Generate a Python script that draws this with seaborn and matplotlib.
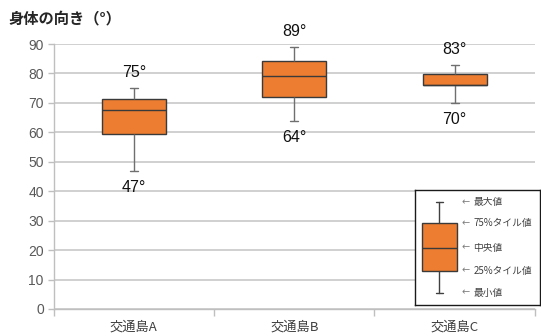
import matplotlib
matplotlib.use("Agg")
import matplotlib.pyplot as plt
import seaborn as sns
import pandas as pd
import numpy as np

# Data (min, q1, median, q3, max) per category
categories = ["交通島A", "交通島B", "交通島C"]
mins = [47, 64, 70]
q1s = [59.5, 71.9, 76.0]
medians = [67.5, 79.0, 76.2]
q3s = [71.2, 84.4, 79.8]
maxs = [75, 89, 83]
yticks = [0, 10, 20, 30, 40, 50, 60, 70, 80, 90]

legend_labels = ["最大値", "75%タイル値", "中央値", "25%タイル値", "最小値"]
legend_sample = [0.107, 0.298, 0.498, 0.713, 0.896]  # min, q1, med, q3, max in legend frame

sns.set_theme(style="white")
plt.rcParams['font.family'] = ['Liberation Sans', 'Noto Sans CJK JP', 'DejaVu Sans']

rows = []
for c, a, b, m, d, e in zip(categories, mins, q1s, medians, q3s, maxs):
    for v in (a, b, m, d, e):
        rows.append({"cat": c, "val": v})
df = pd.DataFrame(rows)

fig = plt.figure(figsize=(5.41, 3.36), dpi=100)
ax = fig.add_axes([0.0989, 0.0804, 0.890, 0.7886])

orange = "#ED7D31"
edge = "#3a3a3a"
sns.boxplot(data=df, x="cat", y="val", ax=ax, whis=(0, 100), showfliers=False,
            color=orange, width=0.4, linewidth=1.0, linecolor=edge,
            whiskerprops=dict(color="#6f6f6f", linewidth=1.0),
            capprops=dict(color="#6f6f6f", linewidth=1.0),
            boxprops=dict(edgecolor=edge, facecolor=orange),
            medianprops=dict(color=edge, linewidth=1.0),
            capwidths=0.05, saturation=1)

ax.set_ylim(0, 90)
ax.set_xlim(-0.5, 2.5)
ax.set_yticks(yticks)
ax.set_yticklabels([str(t) for t in yticks], fontsize=10, color="#595959",
                   family=['Liberation Sans', 'DejaVu Sans'])
ax.set_xticks([0, 1, 2])
ax.set_xticklabels(categories, fontsize=9.5, color="#404040",
                   family=['Noto Sans CJK JP', 'DejaVu Sans'])
ax.set_xlabel("")
ax.set_ylabel("")
ax.yaxis.grid(True, color="#c8c8c8", linewidth=1.2)
ax.set_axisbelow(True)
for s in ["top", "right"]:
    ax.spines[s].set_visible(False)
for s in ["left", "bottom"]:
    ax.spines[s].set_color("#bfbfbf")
    ax.spines[s].set_linewidth(1.0)
ax.tick_params(axis="y", which="major", length=4, color="#bfbfbf", width=1, pad=3, left=True)
ax.tick_params(axis="x", which="major", length=0, pad=8)
ax.set_xticks([-0.5, 0.5, 1.5, 2.5], minor=True)
ax.tick_params(axis="x", which="minor", length=5, color="#bfbfbf", width=1, bottom=True)

for i, (lo, hi) in enumerate(zip(mins, maxs)):
    ax.annotate(f"{hi}°", (i, hi), xytext=(0, 11), textcoords="offset points",
                ha="center", va="center", fontsize=11.5, color="#111111",
                family=['Liberation Sans', 'DejaVu Sans'])
    ax.annotate(f"{lo}°", (i, lo), xytext=(0, -12), textcoords="offset points",
                ha="center", va="center", fontsize=11.5, color="#111111",
                family=['Liberation Sans', 'DejaVu Sans'])

fig.text(0.015, 0.945, "身体の向き（°）", fontsize=11, fontweight="bold", color="#262626",
         family=['Noto Sans CJK JP', 'DejaVu Sans'], ha="left", va="center")

# Legend inset
lax = fig.add_axes([0.7665, 0.0923, 0.2316, 0.342])
lax.set_facecolor("white")
stats = [dict(whislo=legend_sample[0], q1=legend_sample[1], med=legend_sample[2],
              q3=legend_sample[3], whishi=legend_sample[4], fliers=[])]
lax.bxp(stats, positions=[0.197], widths=0.277, patch_artist=True, showfliers=False,
        capwidths=0.056,
        boxprops=dict(facecolor=orange, edgecolor=edge, linewidth=1.0),
        medianprops=dict(color=edge, linewidth=1.0),
        whiskerprops=dict(color="#404040", linewidth=1.0),
        capprops=dict(color="#404040", linewidth=1.0))
lax.set_xlim(0, 1)
lax.set_ylim(0, 1)
lax.set_xticks([])
lax.set_yticks([])
for s in lax.spines.values():
    s.set_visible(True)
    s.set_color("#1a1a1a")
    s.set_linewidth(1.0)
for lab, yv in zip(legend_labels, legend_sample[::-1]):
    lax.text(0.375, yv, "←", fontsize=7, color="#7f7f7f", ha="left", va="center",
             family=['DejaVu Sans'])
    lax.text(0.47, yv, lab, fontsize=7, color="#404040", ha="left", va="center",
             family=['Noto Sans CJK JP', 'DejaVu Sans'])

fig.savefig("out.png", dpi=100, facecolor="white")
